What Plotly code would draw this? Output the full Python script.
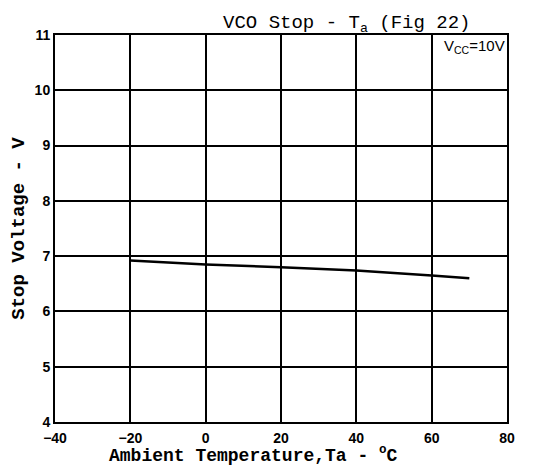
import plotly.graph_objects as go

temps = [-20, 0, 20, 40, 60, 70]
stop_voltage = [6.92, 6.85, 6.80, 6.74, 6.65, 6.60]

x_ticks = [-40, -20, 0, 20, 40, 60, 80]
x_labels = ["−40", "−20", "0", "20", "40", "60", "80"]
y_ticks = [4, 5, 6, 7, 8, 9, 10, 11]

fig = go.Figure()
fig.add_trace(go.Scatter(x=temps, y=stop_voltage, mode="lines",
                         line=dict(color="black", width=2.5), showlegend=False))

fig.update_layout(
    width=531, height=464,
    margin=dict(l=47, r=32, t=27, b=50),
    paper_bgcolor="white", plot_bgcolor="white",
    title=dict(text="VCO Stop - T<sub>a</sub> (Fig 22)", x=0.638, xanchor="center",
               y=0.985, yanchor="top", pad=dict(t=0, b=0),
               font=dict(family="Liberation Mono", size=19, color="black")),
    xaxis=dict(range=[-40, 80], tickvals=x_ticks, ticktext=x_labels,
               automargin=False, ticklabelstandoff=2,
               showgrid=True, gridcolor="black", gridwidth=2,
               showline=True, linecolor="black", linewidth=2, mirror=True,
               zeroline=False, ticks="",
               tickfont=dict(family="Liberation Sans", size=14, color="black", weight="bold")),
    yaxis=dict(range=[4, 11], tickvals=y_ticks,
               automargin=False,
               showgrid=True, gridcolor="black", gridwidth=2,
               showline=True, linecolor="black", linewidth=2, mirror=True,
               zeroline=False, ticks="",
               tickfont=dict(family="Liberation Sans", size=14, color="black", weight="bold"),
               title=dict(text="Stop Voltage - V", standoff=8,
                          font=dict(family="Liberation Mono", size=19, color="black", weight="bold"))),
)

fig.add_annotation(text="Ambient Temperature,Ta - <sup>o</sup>C", xref="paper", yref="paper",
                   x=0.44, y=-0.083, xanchor="center", yanchor="middle", showarrow=False,
                   font=dict(family="Liberation Mono", size=18, color="black", weight="bold"))

fig.add_annotation(text="V<sub>CC</sub>=10V", xref="paper", yref="paper",
                   x=1.0, y=1.0, xanchor="right", yanchor="top", showarrow=False,
                   font=dict(family="Liberation Sans Narrow, Liberation Sans", size=15, color="black"))

fig.write_html("out.html")
